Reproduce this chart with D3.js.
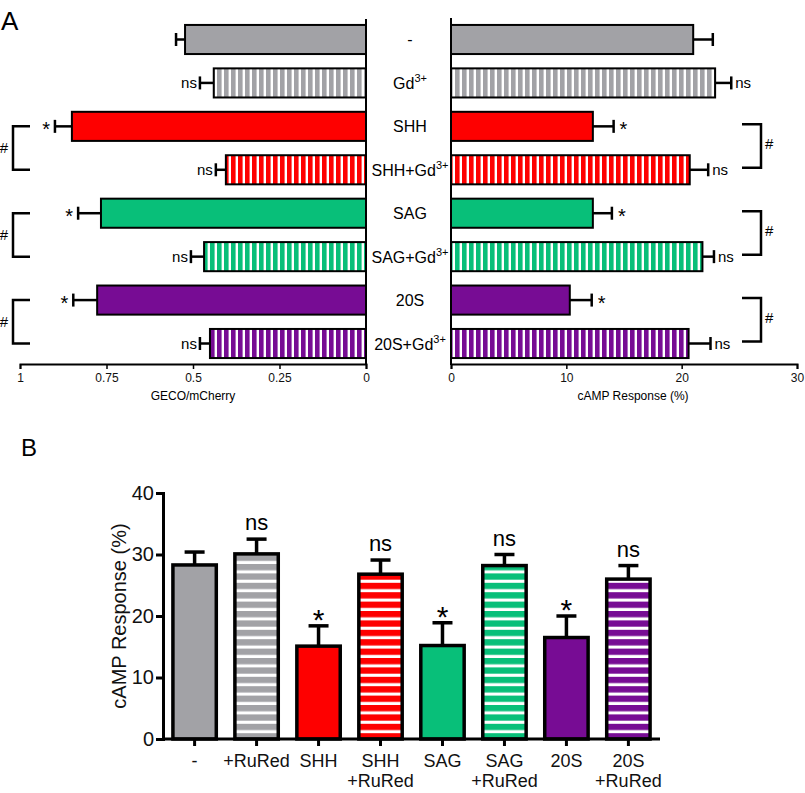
<!DOCTYPE html>
<html>
<head>
<meta charset="utf-8">
<script src="https://cdn.jsdelivr.net/npm/d3@7"></script>
<style>
  html, body { margin: 0; padding: 0; background: #fff; }
  svg { display: block; font-family: "Liberation Sans", Arial, Helvetica, sans-serif; }
</style>
</head>
<body>
<svg id="chart" width="805" height="793"></svg>
<script>
// ---------- DATA ----------
const topLabelBase = ["-", "Gd", "SHH", "SHH+Gd", "SAG", "SAG+Gd", "20S", "20S+Gd"];
const topLabelSup  = ["", "3+", "", "3+", "", "3+", "", "3+"];
const groupIndex   = [0, 0, 1, 1, 2, 2, 3, 3];
const stripedFlag  = [false, true, false, true, false, true, false, true];
const groupColors  = ["#a2a2a6", "#fe0000", "#08bf79", "#770c94"];

const gecoValues = [0.523, 0.440, 0.850, 0.405, 0.766, 0.468, 0.777, 0.451];
const gecoErrors = [0.026, 0.040, 0.049, 0.029, 0.066, 0.038, 0.069, 0.029];
const gecoSig    = ["", "ns", "*", "ns", "*", "ns", "*", "ns"];
const gecoTicks  = [1, 0.75, 0.5, 0.25, 0];

const campTopValues = [21.0, 22.9, 12.3, 20.7, 12.3, 21.8, 10.3, 20.6];
const campTopErrors = [1.7, 1.4, 1.8, 1.6, 1.65, 1.0, 1.9, 1.9];
const campTopSig    = ["", "ns", "*", "ns", "*", "ns", "*", "ns"];
const campTopTicks  = [0, 10, 20, 30];

const bracketPairs = [[2, 3], [4, 5], [6, 7]];

const bottomLine1  = ["-", "+RuRed", "SHH", "SHH", "SAG", "SAG", "20S", "20S"];
const bottomLine2  = ["", "", "", "+RuRed", "", "+RuRed", "", "+RuRed"];
const bottomValues = [28.3, 30.1, 15.1, 26.8, 15.2, 28.2, 16.5, 26.0];
const bottomErrors = [2.1, 2.4, 3.3, 2.3, 3.7, 1.8, 3.5, 2.2];
const bottomSig    = ["", "ns", "*", "ns", "*", "ns", "*", "ns"];
const bottomTicks  = [0, 10, 20, 30, 40];

// ---------- SETUP ----------
const svg = d3.select("#chart");
const defs = svg.append("defs");
const idx = d3.range(topLabelBase.length);

groupColors.forEach((c, g) => {
  const pv = defs.append("pattern").attr("id", "vs" + g)
    .attr("patternUnits", "userSpaceOnUse").attr("width", 7).attr("height", 10);
  pv.append("rect").attr("width", 7).attr("height", 10).attr("fill", c);
  pv.append("rect").attr("x", 4.6).attr("width", 2.4).attr("height", 10).attr("fill", "#fff");
  const ph = defs.append("pattern").attr("id", "hs" + g)
    .attr("patternUnits", "userSpaceOnUse").attr("width", 10).attr("height", 9.4);
  ph.append("rect").attr("width", 10).attr("height", 9.4).attr("fill", c);
  ph.append("rect").attr("y", 6.3).attr("width", 10).attr("height", 3.1).attr("fill", "#fff");
});
const fillTop = i => stripedFlag[i] ? `url(#vs${groupIndex[i]})` : groupColors[groupIndex[i]];
const fillBot = i => stripedFlag[i] ? `url(#hs${groupIndex[i]})` : groupColors[groupIndex[i]];

// Panel letters
svg.append("text").attr("x", 1).attr("y", 30).attr("font-size", 26).text("A");
svg.append("text").attr("x", 21).attr("y", 456).attr("font-size", 24).text("B");

// ---------- TOP SHARED BAND ----------
const yBand = d3.scaleBand().domain(idx).range([18, 365]).paddingInner(0.33).paddingOuter(0.16);
const cy = i => yBand(i) + yBand.bandwidth() / 2;

// ---------- TOP LEFT (GECO) ----------
const xL = d3.scaleLinear().domain([0, 1]).range([366, 20]);
const gL = svg.append("g");
gL.selectAll("line.err").data(idx).join("line")
  .attr("x1", i => xL(gecoValues[i])).attr("x2", i => xL(gecoValues[i] + gecoErrors[i]))
  .attr("y1", cy).attr("y2", cy).attr("stroke", "#000").attr("stroke-width", 2.5);
gL.selectAll("line.cap").data(idx).join("line")
  .attr("x1", i => xL(gecoValues[i] + gecoErrors[i])).attr("x2", i => xL(gecoValues[i] + gecoErrors[i]))
  .attr("y1", i => cy(i) - 6.5).attr("y2", i => cy(i) + 6.5).attr("stroke", "#000").attr("stroke-width", 2.5);
gL.selectAll("rect").data(idx).join("rect")
  .attr("x", i => xL(gecoValues[i])).attr("y", i => yBand(i))
  .attr("width", i => xL(0) - xL(gecoValues[i])).attr("height", yBand.bandwidth())
  .attr("fill", fillTop).attr("stroke", "#000").attr("stroke-width", 2);
gL.selectAll("text.sig").data(idx).join("text")
  .attr("text-anchor", "end")
  .attr("x", i => xL(gecoValues[i] + gecoErrors[i]) - (gecoSig[i] === "*" ? 5 : 3))
  .attr("y", i => cy(i) + (gecoSig[i] === "*" ? 10 : 5))
  .attr("font-size", i => gecoSig[i] === "*" ? 20 : 15)
  .text(i => gecoSig[i]);
const axL = d3.axisBottom(xL).tickValues(gecoTicks).tickFormat(d => String(d)).tickSize(5).tickPadding(4);
const axLg = svg.append("g").attr("transform", "translate(0,364)").call(axL);
axLg.select(".domain").attr("stroke-width", 2);
axLg.selectAll(".tick line").attr("stroke-width", 1.5);
axLg.selectAll("text").attr("font-size", 12).attr("font-family", null).attr("fill", "#111");
svg.append("line").attr("x1", 366).attr("x2", 366).attr("y1", 19).attr("y2", 365)
  .attr("stroke", "#000").attr("stroke-width", 2);
svg.append("text").attr("x", 193).attr("y", 400).attr("text-anchor", "middle").attr("font-size", 12).text("GECO/mCherry");

// left brackets
bracketPairs.forEach(([a, b]) => {
  const y1 = cy(a), y2 = cy(b);
  svg.append("path").attr("d", `M30,${y1}H13V${y2}H30`).attr("fill", "none").attr("stroke", "#000").attr("stroke-width", 2.5);
  svg.append("text").attr("x", 4).attr("y", (y1 + y2) / 2 + 5).attr("text-anchor", "middle").attr("font-size", 15).text("#");
});

// ---------- MIDDLE LABELS ----------
const mid = svg.append("g");
idx.forEach(i => {
  const t = mid.append("text").attr("x", 410).attr("y", cy(i) + 6).attr("text-anchor", "middle").attr("font-size", 16);
  t.append("tspan").text(topLabelBase[i]);
  if (topLabelSup[i]) t.append("tspan").attr("dy", -7).attr("font-size", 11).text(topLabelSup[i]);
});

// ---------- TOP RIGHT (cAMP) ----------
const xR = d3.scaleLinear().domain([0, 30]).range([451, 797]);
const gR = svg.append("g");
gR.selectAll("line.err").data(idx).join("line")
  .attr("x1", i => xR(campTopValues[i])).attr("x2", i => xR(campTopValues[i] + campTopErrors[i]))
  .attr("y1", cy).attr("y2", cy).attr("stroke", "#000").attr("stroke-width", 2.5);
gR.selectAll("line.cap").data(idx).join("line")
  .attr("x1", i => xR(campTopValues[i] + campTopErrors[i])).attr("x2", i => xR(campTopValues[i] + campTopErrors[i]))
  .attr("y1", i => cy(i) - 6.5).attr("y2", i => cy(i) + 6.5).attr("stroke", "#000").attr("stroke-width", 2.5);
gR.selectAll("rect").data(idx).join("rect")
  .attr("x", xR(0)).attr("y", i => yBand(i))
  .attr("width", i => xR(campTopValues[i]) - xR(0)).attr("height", yBand.bandwidth())
  .attr("fill", fillTop).attr("stroke", "#000").attr("stroke-width", 2);
gR.selectAll("text.sig").data(idx).join("text")
  .attr("x", i => xR(campTopValues[i] + campTopErrors[i]) + (campTopSig[i] === "*" ? 6 : 4))
  .attr("y", i => cy(i) + (campTopSig[i] === "*" ? 10 : 5))
  .attr("font-size", i => campTopSig[i] === "*" ? 20 : 15)
  .text(i => campTopSig[i]);
const axR = d3.axisBottom(xR).tickValues(campTopTicks).tickSize(5).tickPadding(4);
const axRg = svg.append("g").attr("transform", "translate(0,364)").call(axR);
axRg.select(".domain").attr("stroke-width", 2);
axRg.selectAll(".tick line").attr("stroke-width", 1.5);
axRg.selectAll("text").attr("font-size", 12).attr("font-family", null).attr("fill", "#111");
svg.append("line").attr("x1", 451).attr("x2", 451).attr("y1", 18).attr("y2", 365)
  .attr("stroke", "#000").attr("stroke-width", 2);
svg.append("text").attr("x", 633).attr("y", 400).attr("text-anchor", "middle").attr("font-size", 12).text("cAMP Response (%)");

bracketPairs.forEach(([a, b]) => {
  const y1 = cy(a) - 2, y2 = cy(b) - 2;
  svg.append("path").attr("d", `M742,${y1}H761V${y2}H742`).attr("fill", "none").attr("stroke", "#000").attr("stroke-width", 2.5);
  svg.append("text").attr("x", 765).attr("y", (y1 + y2) / 2 + 3).attr("font-size", 15).text("#");
});

// ---------- BOTTOM (B) ----------
const bIdx = d3.range(bottomValues.length);
const xB = d3.scaleBand().domain(bIdx).range([163, 660]).paddingInner(0.3).paddingOuter(0.16);
const yB = d3.scaleLinear().domain([0, 40]).range([739, 493]);
const cx = i => xB(i) + xB.bandwidth() / 2;
const gB = svg.append("g");
gB.selectAll("line.err").data(bIdx).join("line")
  .attr("x1", cx).attr("x2", cx)
  .attr("y1", i => yB(bottomValues[i])).attr("y2", i => yB(bottomValues[i] + bottomErrors[i]))
  .attr("stroke", "#000").attr("stroke-width", 3.5);
gB.selectAll("line.cap").data(bIdx).join("line")
  .attr("x1", i => cx(i) - 10).attr("x2", i => cx(i) + 10)
  .attr("y1", i => yB(bottomValues[i] + bottomErrors[i])).attr("y2", i => yB(bottomValues[i] + bottomErrors[i]))
  .attr("stroke", "#000").attr("stroke-width", 3.5);
gB.selectAll("rect").data(bIdx).join("rect")
  .attr("x", i => xB(i)).attr("y", i => yB(bottomValues[i]))
  .attr("width", xB.bandwidth()).attr("height", i => yB(0) - yB(bottomValues[i]))
  .attr("fill", fillBot).attr("stroke", "#000").attr("stroke-width", 3.5);
gB.selectAll("text.sig").data(bIdx).join("text")
  .attr("text-anchor", "middle").attr("x", cx)
  .attr("y", i => yB(bottomValues[i] + bottomErrors[i]) + (bottomSig[i] === "*" ? 4 : -9))
  .attr("font-size", i => bottomSig[i] === "*" ? 30 : 22)
  .text(i => bottomSig[i]);

// axes
const axBy = d3.axisLeft(yB).tickValues(bottomTicks).tickSize(7).tickPadding(2);
const axByg = svg.append("g").attr("transform", "translate(163,0)").call(axBy);
axByg.select(".domain").attr("stroke-width", 3);
axByg.selectAll(".tick line").attr("stroke-width", 3);
axByg.selectAll("text").attr("font-size", 20).attr("font-family", null).attr("fill", "#111");

svg.append("line").attr("x1", 162).attr("x2", 660).attr("y1", 739).attr("y2", 739)
  .attr("stroke", "#000").attr("stroke-width", 3);
const xTicks = svg.append("g");
xTicks.selectAll("line").data(bIdx).join("line")
  .attr("x1", cx).attr("x2", cx).attr("y1", 739).attr("y2", 746)
  .attr("stroke", "#000").attr("stroke-width", 3);
xTicks.selectAll("text.l1").data(bIdx).join("text")
  .attr("text-anchor", "middle").attr("x", cx).attr("y", 767).attr("font-size", 18).attr("fill", "#111")
  .text(i => bottomLine1[i]);
xTicks.selectAll("text.l2").data(bIdx).join("text")
  .attr("text-anchor", "middle").attr("x", cx).attr("y", 787).attr("font-size", 18).attr("fill", "#111")
  .text(i => bottomLine2[i]);

svg.append("text").attr("transform", "translate(126,616) rotate(-90)")
  .attr("text-anchor", "middle").attr("font-size", 20).attr("fill", "#111").text("cAMP Response (%)");
</script>
</body>
</html>
